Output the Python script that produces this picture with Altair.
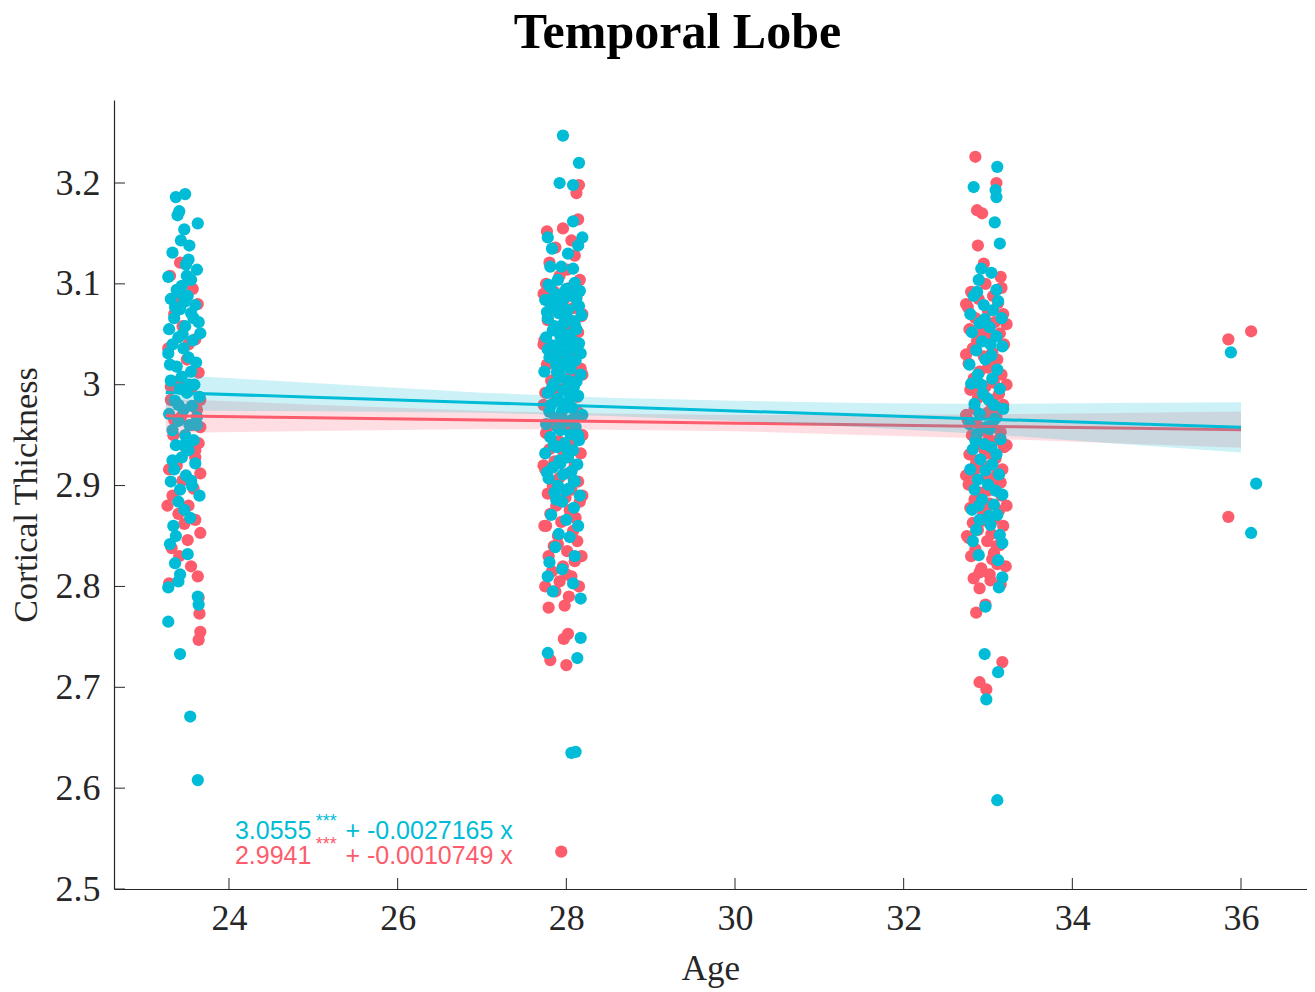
import altair as alt
import pandas as pd

CYAN = "#00BCD6"
RED = "#FC5C6C"
INK = "#262626"

# ---------------- data (age, cortical thickness) ----------------
c1_cyan = [(23.48,3.189),(23.37,3.186),(23.41,3.172),(23.39,3.168),(23.63,3.160),(23.47,3.154),(23.43,3.143),
 (23.53,3.138),(23.33,3.131),(23.52,3.124),(23.49,3.119),(23.62,3.114),(23.28,3.107),(23.55,3.104),(23.44,3.098),
 (23.38,3.094),(23.51,3.088),(23.31,3.085),(23.47,3.082),(23.60,3.079),(23.42,3.075),(23.55,3.071),(23.35,3.066),
 (23.64,3.062),(23.48,3.058),(23.29,3.055),(23.66,3.051),(23.40,3.047),(23.57,3.044),(23.33,3.040),(23.46,3.036),
 (23.28,3.031),(23.52,3.027),(23.61,3.022),(23.38,3.018),(23.55,3.013),(23.44,3.008),(23.31,3.004),(23.59,3.000),
 (23.42,2.996),(23.50,2.992),(23.65,2.988),(23.36,2.984),(23.56,2.979),(23.46,2.975),(23.29,2.971),(23.62,2.968),
 (23.40,2.964),(23.53,2.960),(23.33,2.955),(23.48,2.950),(23.58,2.945),(23.37,2.940),(23.52,2.935),(23.44,2.928),
 (23.60,2.922),(23.35,2.916),(23.49,2.910),(23.31,2.904),(23.56,2.900),(23.42,2.896),(23.65,2.890),(23.40,2.884),
 (23.47,2.876),(23.54,2.868),(23.34,2.860),(23.37,2.850),(23.30,2.842),(23.51,2.832),(23.36,2.823),(23.42,2.812),
 (23.40,2.805),(23.28,2.799),(23.63,2.790),(23.64,2.782),(23.28,2.765),(23.42,2.733),(23.54,2.671),(23.63,2.608),
 (23.36,3.077),(23.58,3.066),(23.45,3.050),(23.30,3.020),(23.53,3.000),(23.40,2.980),(23.62,2.960),(23.46,2.940),
 (23.33,2.925),(23.55,2.905),(23.44,3.090),(23.50,3.108)]

c1_red = [(23.42,3.121),(23.30,3.108),(23.57,3.095),(23.63,3.080),(23.35,3.070),(23.45,3.058),(23.60,3.045),
 (23.28,3.036),(23.50,3.025),(23.64,3.012),(23.39,3.003),(23.55,2.995),(23.31,2.985),(23.62,2.975),(23.43,2.968),
 (23.66,2.958),(23.34,2.950),(23.64,2.942),(23.50,2.935),(23.60,2.928),(23.38,2.920),(23.66,2.912),(23.45,2.905),
 (23.58,2.897),(23.33,2.890),(23.52,2.880),(23.40,2.872),(23.60,2.866),(23.47,2.862),(23.66,2.853),(23.51,2.846),
 (23.32,2.838),(23.41,2.830),(23.55,2.820),(23.63,2.810),(23.29,2.803),(23.64,2.789),(23.65,2.773),(23.66,2.755),
 (23.64,2.747),(23.40,3.084),(23.52,3.040),(23.47,2.998),(23.56,2.960),(23.29,2.916),
 (23.31,2.998),(23.35,2.965),(23.60,2.935),(23.27,2.880),(23.66,2.985)]

c2_cyan = [(27.96,3.247),(28.15,3.220),(27.92,3.200),(28.08,3.198),(28.08,3.162),(27.78,3.146),(28.19,3.146),
 (28.14,3.138),(27.83,3.135),(28.02,3.130),(27.81,3.117),(27.94,3.117),(28.08,3.115),
 (27.90,3.104),(28.10,3.101),(27.79,3.099),(28.00,3.095),(28.16,3.093),(27.86,3.090),(28.06,3.088),(27.75,3.084),
 (27.95,3.082),(28.13,3.079),(27.83,3.077),(28.02,3.074),(27.91,3.071),(28.18,3.069),(27.78,3.066),(28.08,3.063),
 (27.97,3.061),(27.86,3.058),(28.12,3.055),(27.93,3.052),(28.04,3.050),(27.76,3.047),(27.99,3.044),(28.15,3.041),
 (27.84,3.039),(28.07,3.036),(27.92,3.033),(28.01,3.030),(27.80,3.027),(28.11,3.024),(27.96,3.021),(27.88,3.019),
 (28.05,3.016),(27.74,3.013),(28.17,3.010),(27.94,3.007),(28.02,3.004),(27.85,3.001),(28.09,2.998),(27.97,2.995),
 (27.78,2.992),(28.14,2.989),(27.90,2.986),(28.03,2.983),(27.82,2.980),(28.07,2.977),(27.95,2.974),(28.19,2.970),
 (27.87,2.967),(28.00,2.964),(27.76,2.961),(28.11,2.958),(27.93,2.955),(28.05,2.951),(27.81,2.948),(28.15,2.945),
 (27.98,2.942),(27.89,2.938),(28.08,2.935),(27.75,2.932),(28.02,2.928),(27.92,2.925),(28.13,2.921),(27.84,2.918),
 (28.06,2.914),(27.96,2.911),(27.79,2.907),(28.10,2.904),(27.90,2.900),(28.03,2.897),(27.86,2.893),(28.16,2.890),
 (27.98,3.092),(28.12,3.086),(27.88,3.075),(28.01,3.065),(27.93,3.048),(28.13,3.038),(28.05,3.020),(27.89,3.012),
 (27.95,2.884),(28.09,2.878),(27.82,2.871),(28.00,2.866),(28.14,2.860),(27.91,2.852),(28.04,2.849),(27.87,2.839),
 (28.10,2.830),(27.80,2.824),(27.95,2.817),(27.78,2.810),(28.08,2.803),(27.84,2.795),(28.17,2.788),(28.17,2.749),
 (27.78,2.734),(28.13,2.729),(28.11,2.636),(28.06,2.635),
 (27.81,3.097),(28.03,3.091),(27.89,3.083),(28.15,3.078),(27.77,3.072),(27.99,3.067),(28.10,3.060),(27.84,3.054),
 (28.06,3.045),(27.94,3.040),(27.78,3.035),(28.17,3.031),(27.87,3.026),(28.00,3.018),(27.92,3.009),(28.12,3.003),
 (27.83,2.997),(28.04,2.990),(27.96,2.981),(27.80,2.973),(28.08,2.966),(27.90,2.957),(28.14,2.950),(27.85,2.940),
 (28.02,2.933),(27.93,2.922),(27.77,2.913),(28.09,2.905),(27.99,2.895),(27.88,2.886)]

c2_red = [(28.15,3.198),(28.12,3.190),(28.14,3.164),(27.96,3.155),(27.77,3.152),(28.06,3.143),(27.87,3.136),
 (28.10,3.128),(27.80,3.121),(28.01,3.114),
 (27.92,3.108),(28.16,3.104),(27.76,3.100),(28.04,3.096),(27.86,3.092),(28.12,3.088),(27.97,3.084),(27.81,3.080),
 (28.08,3.076),(27.90,3.072),(28.18,3.068),(27.78,3.064),(28.00,3.060),(27.88,3.056),(28.14,3.052),(27.95,3.048),
 (27.74,3.044),(28.06,3.040),(27.84,3.036),(28.11,3.032),(27.93,3.028),(28.02,3.024),(27.77,3.020),(28.17,3.016),
 (27.89,3.012),(28.05,3.008),(27.82,3.004),(28.09,3.000),(27.96,2.996),(27.75,2.992),(28.13,2.988),(27.87,2.984),
 (28.03,2.980),(27.79,2.976),(28.15,2.972),(27.94,2.968),(28.07,2.964),(27.83,2.960),(28.01,2.956),(27.76,2.952),
 (28.12,2.948),(27.91,2.944),(28.05,2.940),(27.80,2.936),(28.17,2.932),(27.98,2.928),(27.86,2.924),(28.10,2.920),
 (27.75,2.916),(28.02,2.912),(27.92,2.908),(28.14,2.904),(27.84,2.900),(28.06,2.896),(27.78,2.892),(27.99,2.888),
 (28.16,2.884),(27.88,2.880),(28.04,2.876),(27.81,2.872),(28.11,2.868),(27.94,2.864),(27.76,2.860),(28.08,2.855),
 (27.90,2.850),(28.13,2.845),(27.85,2.840),(28.01,2.835),(27.79,2.830),(28.10,2.825),(27.96,2.820),(27.83,2.815),
 (28.06,2.810),(27.92,2.805),(28.15,2.800),(27.87,2.795),(28.03,2.790),
 (27.98,2.781),(27.79,2.779),(28.02,2.753),(27.97,2.748),(27.81,2.727),(28.00,2.722),(27.94,2.537),
 (27.73,3.090),(28.19,3.070),(27.73,3.040),(28.19,3.010),(27.73,2.980),(28.19,2.950),(27.73,2.920),(28.19,2.890),
 (27.74,2.860),(28.18,2.830),(27.75,2.800),(28.00,2.812),(27.90,2.842),(28.05,2.872),(27.85,2.902),(27.97,2.932),
 (28.07,2.962),(27.88,2.992)]

c3_cyan = [(33.11,3.216),(32.83,3.196),(33.09,3.193),(33.10,3.186),(33.08,3.161),(33.14,3.140),(32.92,3.115),
 (33.04,3.111),(32.89,3.104),(33.10,3.094),(32.87,3.092),
 (32.83,3.088),(33.12,3.083),(32.95,3.079),(33.06,3.074),(32.79,3.070),(33.16,3.066),(32.90,3.061),(33.02,3.057),
 (32.81,3.052),(33.10,3.048),(32.93,3.043),(33.17,3.038),(32.86,3.034),(33.04,3.029),(32.97,3.025),(32.78,3.020),
 (33.11,3.015),(32.88,3.010),(33.05,3.006),(32.80,3.001),(33.14,2.996),(32.94,2.991),(33.00,2.986),(32.84,2.981),
 (33.18,2.976),(32.90,2.971),(33.08,2.966),(32.78,2.961),(33.02,2.956),(32.87,2.951),(33.15,2.946),(32.96,2.941),
 (32.82,2.936),(33.10,2.931),(32.91,2.926),(33.05,2.921),(32.79,2.916),(33.13,2.911),(32.88,2.906),(33.00,2.901),
 (32.84,2.896),(33.17,2.891),(32.93,2.886),(33.07,2.881),(32.81,2.876),(33.11,2.871),(32.90,2.866),(33.03,2.861),
 (32.86,2.856),(33.14,2.851),
 (32.82,2.845),(33.17,2.843),(32.89,2.831),(33.12,2.826),(33.17,2.809),(33.13,2.799),(32.97,2.780),(32.96,2.733),
 (33.12,2.715),(32.98,2.688),(33.11,2.588),
 (32.96,3.065),(33.03,3.040),(32.92,3.000),(33.07,2.980),(32.98,2.958),(32.85,2.945),(33.04,2.938),(32.97,2.915),
 (33.09,2.895),(32.89,2.880),(33.01,2.870)]

c3_red = [(32.85,3.226),(33.10,3.200),(32.87,3.173),(32.93,3.170),(32.88,3.138),(32.95,3.120),(33.15,3.107),
 (32.97,3.100),(33.16,3.096),(32.80,3.092),(33.06,3.088),(32.89,3.085),(33.12,3.081),(32.76,3.077),(33.00,3.073),
 (33.18,3.070),(32.85,3.066),(33.08,3.062),(32.93,3.058),(32.78,3.055),(33.14,3.051),(33.02,3.047),(32.87,3.043),
 (33.19,3.040),(32.82,3.036),(33.05,3.032),(32.95,3.028),(33.11,3.025),(32.77,3.021),(33.00,3.017),(32.90,3.013),
 (33.16,3.010),(32.83,3.006),(33.07,3.002),(32.97,2.998),(32.79,2.995),(33.13,2.991),(32.88,2.987),(33.03,2.983),
 (33.18,2.980),(32.84,2.976),(32.99,2.972),(33.10,2.968),(32.76,2.965),(33.05,2.961),(32.92,2.957),(33.15,2.953),
 (32.81,2.950),(33.01,2.946),(32.89,2.942),(33.19,2.938),(32.96,2.935),(32.78,2.931),(33.09,2.927),(32.86,2.923),
 (33.03,2.920),(33.17,2.916),(32.82,2.912),(32.98,2.908),(33.12,2.905),(32.77,2.901),(33.06,2.897),(32.91,2.893),
 (33.16,2.890),(32.84,2.886),(33.02,2.882),(32.79,2.878),(33.13,2.875),(32.94,2.871),(33.08,2.867),(32.82,2.863),
 (33.18,2.860),(32.88,2.856),(33.04,2.852),(32.77,2.848),(32.99,2.845),(33.14,2.841),(32.85,2.837),(33.07,2.833),
 (32.80,2.830),(33.11,2.822),(32.92,2.818),(33.02,2.812),(32.83,2.808),(33.15,2.802),(32.90,2.798),
 (32.95,2.990),(33.08,2.975),(32.86,2.962),(33.12,2.945),(32.99,2.932),(32.90,2.918),(33.15,2.903),(33.00,2.880),
 (33.05,2.827),(32.90,2.814),(33.03,2.806),(32.97,2.782),(32.86,2.774),(33.17,2.725),(32.90,2.705),(32.98,2.698),
 (32.74,3.080),(33.22,3.060),(32.74,3.030),(33.22,3.000),(32.74,2.970),(33.22,2.940),(32.74,2.910),(33.22,2.880),
 (32.75,2.850),(33.21,2.820),(32.95,2.955),(33.05,2.985),(32.88,2.925),(33.00,2.895),(32.93,2.865),(33.10,2.840),
 (32.85,2.995),(33.02,3.020),(32.94,3.050),(33.10,2.910)]

c4_cyan = [(35.88,3.032),(36.18,2.902),(36.12,2.853)]
c4_red = [(36.12,3.053),(35.85,3.045),(35.85,2.869)]

cyan_coef = (3.0555, -0.0027165)
red_coef = (2.9941, -0.0010749)
band_age = [23.25, 25.0, 27.0, 28.5, 30.0, 31.5, 33.0, 34.5, 36.0]
cyan_hw = [0.018, 0.014, 0.010, 0.009, 0.010, 0.012, 0.015, 0.020, 0.025]
red_hw = [0.017, 0.013, 0.009, 0.008, 0.008, 0.010, 0.012, 0.015, 0.018]

x_ticks = [24, 26, 28, 30, 32, 34, 36]
y_ticks = [2.5, 2.6, 2.7, 2.8, 2.9, 3.0, 3.1, 3.2]

cyan_eq = ["3.0555", "+ -0.0027165 x"]
red_eq = ["2.9941", "+ -0.0010749 x"]
stars = "***"

# ---------------- frames ----------------
def pts(*groups):
    return pd.DataFrame([p for g in groups for p in g], columns=["age", "thk"])

red_pts = pts(c1_red, c2_red, c3_red, c4_red)
cyan_pts = pts(c1_cyan, c2_cyan, c3_cyan, c4_cyan)

def band(coef, hw):
    rows = []
    for a, h in zip(band_age, hw):
        f = coef[0] + coef[1] * a
        rows.append({"age": a, "thk": f, "lo": f - h, "hi": f + h})
    return pd.DataFrame(rows)

red_band = band(red_coef, red_hw)
cyan_band = band(cyan_coef, cyan_hw)

W, H = 1193, 789
xs = alt.Scale(domain=[22.6364, 36.7825], nice=False, zero=False)
ys = alt.Scale(domain=[2.5, 3.2823], nice=False, zero=False)

SERIF = "Liberation Serif"
x_axis = alt.Axis(values=x_ticks, ticks=False, grid=False, labelFont=SERIF, labelFontSize=36,
                  labelColor=INK, labelPadding=12, labelFlush=False, title="Age", titleFont=SERIF,
                  titleFontSize=35, titleFontWeight="normal", titleColor=INK, titlePadding=15,
                  domainColor=INK, domainWidth=1.2)
y_axis = alt.Axis(values=y_ticks, ticks=False, grid=False, format=".1~f", labelFont=SERIF,
                  labelFontSize=36, labelColor=INK, labelPadding=14, labelFlush=False,
                  title="Cortical Thickness", titleFont=SERIF, titleFontSize=34,
                  titleFontWeight="normal", titleColor=INK, titlePadding=12,
                  domainColor=INK, domainWidth=1.2)

def X(f="age"):
    return alt.X(f"{f}:Q", scale=xs, axis=x_axis)

def Y(f="thk"):
    return alt.Y(f"{f}:Q", scale=ys, axis=y_axis)

red_layer = alt.Chart(red_pts).mark_circle(size=150, opacity=1, color=RED).encode(x=X(), y=Y())
cyan_layer = alt.Chart(cyan_pts).mark_circle(size=150, opacity=1, color=CYAN).encode(x=X(), y=Y())

red_area = alt.Chart(red_band).mark_area(color=RED, opacity=0.2).encode(x=X(), y=Y("lo"), y2="hi:Q")
red_line = alt.Chart(red_band).mark_line(color=RED, strokeWidth=3).encode(x=X(), y=Y())
cyan_area = alt.Chart(cyan_band).mark_area(color=CYAN, opacity=0.2).encode(x=X(), y=Y("lo"), y2="hi:Q")
cyan_line = alt.Chart(cyan_band).mark_line(color=CYAN, strokeWidth=3).encode(x=X(), y=Y())

xt = alt.Chart(pd.DataFrame({"age": x_ticks})).mark_rule(color=INK, strokeWidth=1).encode(
    x=X(), y=alt.value(H), y2=alt.value(H - 11))
yt = alt.Chart(pd.DataFrame({"thk": y_ticks})).mark_rule(color=INK, strokeWidth=1).encode(
    y=Y(), x=alt.value(0), x2=alt.value(11))

eq_df = pd.DataFrame({
    "age": [24.07, 25.38, 24.07, 25.38],
    "thk": [2.5496, 2.5496, 2.5248, 2.5248],
    "txt": [cyan_eq[0], cyan_eq[1], red_eq[0], red_eq[1]],
    "col": [CYAN, CYAN, RED, RED],
})
star_df = pd.DataFrame({"age": [25.03, 25.03], "thk": [2.5617, 2.5387],
                        "txt": [stars, stars], "col": [CYAN, RED]})

eq_text = alt.Chart(eq_df).mark_text(align="left", baseline="alphabetic", font="Liberation Sans",
                                     fontSize=25).encode(
    x=X(), y=Y(), text="txt:N", color=alt.Color("col:N", scale=None))
star_text = alt.Chart(star_df).mark_text(align="left", baseline="alphabetic", font="Liberation Sans",
                                         fontSize=18).encode(
    x=X(), y=Y(), text="txt:N", color=alt.Color("col:N", scale=None))

chart = alt.layer(
    red_layer, cyan_layer, red_area, red_line, cyan_area, cyan_line, xt, yt, eq_text, star_text
).properties(
    width=W, height=H,
    title=alt.TitleParams("Temporal Lobe", font=SERIF, fontSize=50, fontWeight="bold",
                          color="black", anchor="middle", dx=-33, offset=42),
    autosize=alt.AutoSizeParams(type="none"),
    padding={"left": 106, "top": 92, "right": 0, "bottom": 100},
    background="white",
).configure_view(stroke=None)

chart.save("out.html", embed_options={"renderer": "svg", "actions": False})
